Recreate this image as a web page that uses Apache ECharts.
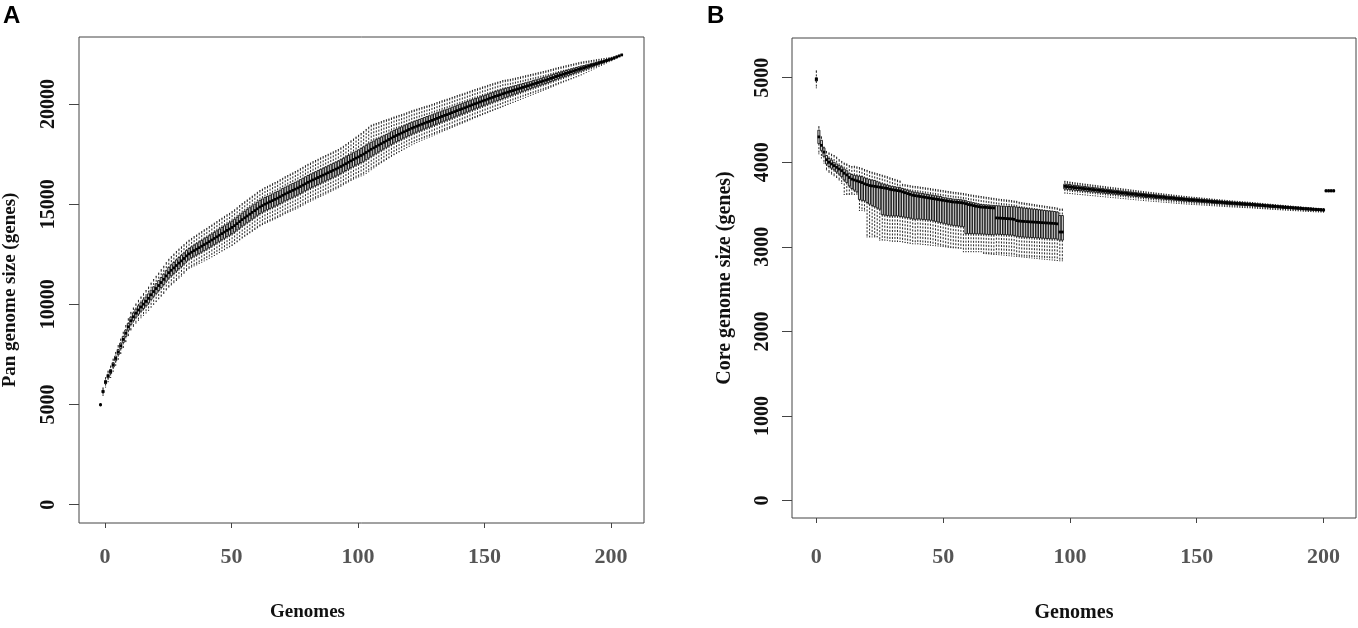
<!DOCTYPE html>
<html>
<head>
<meta charset="utf-8">
<script src="https://cdn.jsdelivr.net/npm/echarts@6/dist/echarts.min.js"></script>
<style>
html, body { margin: 0; padding: 0; background: #fff; }
#canvas { width: 1358px; height: 628px; }
</style>
</head>
<body>
<div id="canvas"></div>
<script>
// ---- data ----
// panel A: pan genome, one box per genome count (207 boxes)
var panStart = -1.8;
var panMedian = [
    4990, 5650, 6120, 6420, 6650, 6980, 7300, 7620, 7930, 8250,
    8560, 8880, 9180, 9380, 9560, 9720, 9870, 10010, 10150, 10300,
    10480, 10640, 10790, 10940, 11090, 11250, 11420, 11580, 11700, 11820,
    11940, 12060, 12170, 12290, 12420, 12520, 12600, 12680, 12750, 12830,
    12900, 12980, 13050, 13130, 13210, 13290, 13370, 13450, 13530, 13610,
    13690, 13760, 13840, 13930, 14030, 14130, 14230, 14320, 14410, 14500,
    14590, 14680, 14770, 14860, 14930, 15000, 15060, 15120, 15180, 15240,
    15300, 15370, 15440, 15510, 15570, 15630, 15690, 15750, 15810, 15880,
    15950, 16020, 16090, 16150, 16210, 16270, 16330, 16390, 16450, 16510,
    16570, 16630, 16690, 16750, 16810, 16880, 16950, 17020, 17090, 17160,
    17230, 17300, 17360, 17430, 17500, 17580, 17660, 17740, 17810, 17880,
    17950, 18020, 18090, 18160, 18230, 18300, 18370, 18430, 18490, 18550,
    18610, 18670, 18730, 18790, 18840, 18890, 18940, 18990, 19040, 19090,
    19130, 19180, 19230, 19280, 19330, 19380, 19430, 19470, 19520, 19570,
    19620, 19670, 19720, 19760, 19810, 19860, 19910, 19960, 20010, 20050,
    20100, 20150, 20190, 20240, 20290, 20330, 20380, 20420, 20460, 20510,
    20550, 20590, 20630, 20670, 20710, 20750, 20790, 20830, 20870, 20910,
    20950, 20990, 21030, 21070, 21110, 21150, 21190, 21230, 21280, 21320,
    21370, 21410, 21450, 21490, 21530, 21570, 21610, 21650, 21690, 21730,
    21770, 21810, 21850, 21890, 21930, 21970, 22010, 22050, 22090, 22130,
    22170, 22210, 22250, 22300, 22350, 22400, 22450
];
// half of the box (Q3 - Q1) / 2
var panBoxHalf = [
    15, 60, 80, 90, 100, 110, 120, 130, 140, 150,
    160, 170, 180, 190, 200, 205, 210, 215, 220, 225,
    230, 235, 240, 245, 250, 255, 260, 265, 270, 270,
    275, 275, 275, 270, 265, 265, 270, 275, 280, 285,
    285, 290, 290, 295, 295, 300, 300, 305, 305, 310,
    310, 310, 315, 315, 315, 320, 320, 320, 320, 325,
    325, 325, 325, 330, 330, 330, 330, 330, 335, 335,
    335, 335, 340, 340, 340, 340, 345, 345, 345, 345,
    345, 345, 345, 345, 345, 345, 345, 345, 345, 345,
    345, 345, 345, 345, 345, 340, 340, 340, 340, 340,
    340, 345, 350, 355, 360, 360, 355, 350, 345, 340,
    335, 330, 325, 320, 320, 315, 315, 310, 310, 305,
    305, 300, 300, 295, 295, 290, 290, 290, 285, 285,
    285, 280, 280, 280, 275, 275, 275, 270, 270, 270,
    265, 265, 265, 260, 260, 260, 255, 255, 255, 250,
    250, 250, 245, 245, 245, 240, 240, 240, 235, 235,
    230, 225, 220, 215, 210, 205, 200, 195, 190, 185,
    180, 178, 175, 172, 170, 168, 165, 162, 160, 158,
    155, 150, 148, 145, 142, 140, 136, 132, 128, 124,
    120, 112, 104, 96, 88, 80, 72, 64, 56, 48,
    42, 36, 30, 24, 18, 12, 5
];
// median - lower whisker end
var panWhiskDown = [
    60, 200, 250, 280, 300, 320, 340, 360, 380, 400,
    420, 440, 460, 480, 500, 520, 540, 560, 580, 600,
    620, 640, 650, 660, 680, 700, 700, 720, 730, 740,
    750, 750, 760, 740, 720, 720, 740, 760, 780, 790,
    800, 810, 820, 830, 840, 850, 860, 860, 870, 880,
    880, 890, 900, 900, 910, 910, 920, 920, 930, 930,
    940, 940, 950, 950, 950, 960, 960, 960, 970, 970,
    970, 980, 980, 980, 990, 990, 990, 1000, 1000, 1000,
    1000, 1000, 1000, 1000, 1000, 1000, 1000, 1000, 1000, 1000,
    1000, 1000, 990, 990, 990, 990, 980, 980, 980, 980,
    980, 990, 1000, 1020, 1040, 1050, 1040, 1020, 1000, 980,
    960, 950, 940, 930, 920, 910, 900, 890, 880, 870,
    860, 850, 840, 830, 820, 810, 800, 800, 790, 790,
    780, 780, 770, 770, 760, 760, 750, 750, 740, 740,
    730, 730, 720, 720, 710, 710, 700, 700, 690, 690,
    680, 680, 670, 670, 660, 660, 650, 650, 640, 640,
    620, 610, 600, 590, 580, 570, 560, 550, 540, 530,
    520, 510, 500, 490, 480, 470, 460, 450, 440, 430,
    420, 410, 400, 390, 380, 370, 360, 350, 340, 330,
    320, 300, 280, 260, 240, 220, 200, 180, 160, 140,
    120, 100, 90, 80, 60, 40, 15
];
// upper whisker end - median
var panWhiskUp = [
    60, 180, 220, 250, 270, 290, 300, 320, 340, 360,
    380, 400, 420, 440, 460, 480, 500, 520, 540, 560,
    580, 600, 610, 620, 640, 650, 660, 670, 680, 690,
    700, 700, 700, 690, 680, 680, 690, 700, 710, 720,
    730, 740, 740, 750, 750, 760, 760, 770, 770, 780,
    780, 780, 790, 790, 790, 800, 800, 800, 800, 810,
    810, 810, 820, 820, 820, 830, 830, 830, 840, 840,
    840, 850, 850, 860, 860, 870, 870, 880, 880, 890,
    890, 900, 900, 900, 910, 910, 910, 920, 920, 920,
    920, 920, 920, 920, 920, 930, 940, 960, 980, 1000,
    1020, 1050, 1080, 1100, 1120, 1150, 1180, 1200, 1180, 1150,
    1120, 1100, 1080, 1050, 1020, 1000, 980, 960, 940, 920,
    900, 890, 880, 870, 860, 850, 840, 830, 820, 810,
    800, 800, 790, 790, 780, 780, 770, 770, 760, 760,
    750, 750, 740, 740, 730, 730, 720, 720, 710, 710,
    700, 700, 690, 690, 680, 680, 670, 670, 660, 660,
    640, 620, 600, 590, 580, 570, 560, 550, 540, 530,
    520, 510, 500, 490, 480, 470, 460, 450, 440, 430,
    420, 410, 400, 390, 380, 370, 360, 350, 340, 330,
    320, 300, 280, 260, 240, 220, 200, 180, 160, 140,
    120, 100, 80, 60, 50, 30, 10
];

// panel B: core genome, boxes at genome counts 0..204
var coreStart = 0;
var coreMedian = [
    4980, 4300, 4200, 4120, 4030, 4000, 3980, 3960, 3940, 3920,
    3900, 3870, 3850, 3820, 3800, 3790, 3780, 3770, 3760, 3745,
    3735, 3725, 3720, 3715, 3710, 3705, 3700, 3695, 3690, 3680,
    3675, 3670, 3665, 3660, 3650, 3640, 3630, 3620, 3610, 3605,
    3600, 3595, 3590, 3585, 3580, 3575, 3570, 3565, 3560, 3555,
    3550, 3545, 3540, 3535, 3530, 3528, 3525, 3522, 3518, 3510,
    3500, 3495, 3487, 3480, 3475, 3470, 3468, 3466, 3464, 3462,
    3460, 3342, 3340, 3338, 3336, 3334, 3332, 3330, 3325, 3310,
    3305, 3302, 3300, 3298, 3296, 3294, 3292, 3290, 3288, 3286,
    3284, 3282, 3280, 3278, 3276, 3272, 3175, 3175, 3715, 3712,
    3708, 3704, 3700, 3697, 3694, 3690, 3687, 3684, 3680, 3677,
    3674, 3670, 3667, 3664, 3660, 3657, 3654, 3650, 3647, 3644,
    3640, 3637, 3634, 3630, 3627, 3624, 3620, 3617, 3614, 3610,
    3607, 3604, 3601, 3598, 3595, 3592, 3589, 3586, 3583, 3580,
    3577, 3574, 3571, 3568, 3565, 3562, 3560, 3557, 3554, 3552,
    3550, 3548, 3545, 3543, 3540, 3538, 3535, 3533, 3530, 3528,
    3526, 3523, 3521, 3518, 3516, 3514, 3512, 3510, 3508, 3506,
    3504, 3502, 3500, 3497, 3495, 3492, 3490, 3487, 3485, 3482,
    3480, 3478, 3475, 3473, 3470, 3468, 3466, 3464, 3461, 3459,
    3457, 3455, 3452, 3450, 3448, 3446, 3444, 3442, 3440, 3438,
    3436, 3662, 3662, 3662, 3662
];
// Q3 - median
var coreBoxUp = [
    20, 80, 60, 50, 50, 45, 45, 40, 40, 40,
    45, 50, 50, 50, 55, 55, 60, 65, 70, 70,
    70, 70, 70, 70, 60, 50, 45, 40, 40, 40,
    40, 40, 40, 40, 40, 40, 40, 40, 40, 40,
    40, 40, 40, 40, 40, 40, 40, 40, 40, 40,
    35, 35, 35, 35, 35, 35, 35, 35, 35, 35,
    35, 35, 35, 35, 30, 30, 30, 30, 30, 30,
    30, 145, 145, 145, 145, 145, 145, 145, 150, 160,
    160, 160, 158, 156, 155, 154, 153, 152, 150, 148,
    146, 145, 144, 143, 142, 140, 195, 195, 28, 28,
    28, 27, 27, 27, 26, 26, 26, 25, 25, 25,
    25, 25, 24, 24, 24, 24, 23, 23, 23, 23,
    22, 22, 22, 22, 22, 21, 21, 21, 21, 21,
    20, 20, 20, 20, 20, 20, 20, 20, 19, 19,
    19, 19, 19, 19, 19, 18, 18, 18, 18, 18,
    18, 18, 17, 17, 17, 17, 17, 17, 16, 16,
    16, 16, 16, 16, 16, 15, 15, 15, 15, 15,
    15, 15, 15, 14, 14, 14, 14, 14, 14, 14,
    14, 13, 13, 13, 13, 13, 13, 13, 12, 12,
    12, 12, 12, 12, 12, 12, 11, 11, 11, 11,
    10, 8, 8, 8, 8
];
// median - Q1
var coreBoxDown = [
    20, 80, 60, 50, 50, 50, 50, 50, 55, 60,
    70, 80, 90, 100, 110, 120, 130, 210, 210, 200,
    210, 220, 230, 240, 250, 260, 320, 320, 320, 315,
    310, 305, 300, 300, 295, 290, 285, 280, 280, 280,
    270, 268, 266, 264, 262, 260, 262, 264, 266, 268,
    270, 272, 274, 276, 276, 278, 278, 280, 280, 355,
    344, 340, 333, 326, 322, 318, 318, 318, 318, 318,
    318, 192, 192, 192, 192, 192, 192, 192, 190, 185,
    185, 185, 185, 185, 184, 184, 184, 184, 184, 184,
    184, 184, 184, 184, 180, 180, 96, 96, 32, 32,
    32, 32, 31, 31, 31, 30, 30, 30, 30, 29,
    29, 29, 29, 28, 28, 28, 28, 27, 27, 27,
    27, 26, 26, 26, 26, 25, 25, 25, 25, 25,
    24, 24, 24, 24, 24, 23, 23, 23, 23, 23,
    22, 22, 22, 22, 22, 22, 21, 21, 21, 21,
    21, 21, 20, 20, 20, 20, 20, 20, 19, 19,
    19, 19, 19, 19, 18, 18, 18, 18, 18, 18,
    17, 17, 17, 17, 17, 17, 16, 16, 16, 16,
    16, 16, 15, 15, 15, 15, 15, 15, 14, 14,
    14, 14, 14, 14, 13, 13, 13, 13, 13, 12,
    12, 8, 8, 8, 8
];
// median - lower whisker end
var coreWhiskDown = [
    100, 200, 150, 130, 120, 120, 120, 120, 120, 130,
    150, 250, 230, 200, 180, 170, 160, 340, 330, 320,
    618, 608, 603, 598, 593, 626, 620, 616, 612, 610,
    609, 605, 601, 597, 593, 589, 584, 579, 574, 570,
    565, 563, 561, 559, 558, 556, 554, 552, 550, 548,
    547, 546, 545, 544, 542, 541, 541, 540, 576, 568,
    558, 553, 545, 538, 533, 528, 546, 547, 548, 549,
    550, 432, 433, 434, 435, 436, 437, 438, 436, 424,
    421, 422, 423, 424, 425, 426, 427, 428, 429, 430,
    431, 432, 433, 434, 435, 434, 340, 340, 80, 78,
    78, 76, 76, 75, 75, 74, 74, 73, 73, 72,
    72, 71, 71, 70, 70, 69, 69, 68, 68, 67,
    67, 66, 66, 65, 65, 64, 64, 63, 63, 62,
    62, 61, 61, 60, 60, 59, 59, 58, 58, 57,
    57, 56, 56, 55, 55, 54, 54, 53, 53, 52,
    52, 51, 51, 50, 50, 49, 49, 48, 48, 47,
    47, 46, 46, 45, 45, 44, 44, 43, 43, 42,
    42, 41, 41, 40, 40, 39, 39, 38, 38, 37,
    37, 36, 36, 35, 35, 34, 34, 33, 33, 32,
    32, 31, 31, 30, 30, 29, 29, 28, 28, 27,
    26, 12, 12, 12, 12
];
// upper whisker end - median
var coreWhiskUp = [
    100, 120, 100, 60, 98, 110, 115, 120, 120, 110,
    110, 120, 130, 140, 150, 163, 165, 167, 168, 169,
    169, 166, 162, 159, 155, 151, 147, 143, 139, 136,
    132, 128, 123, 118, 89, 94, 99, 103, 107, 109,
    111, 111, 112, 112, 113, 113, 113, 114, 114, 114,
    115, 115, 115, 116, 116, 115, 114, 113, 113, 116,
    119, 119, 122, 124, 125, 125, 123, 120, 118, 115,
    113, 226, 224, 222, 221, 220, 218, 216, 217, 228,
    222, 220, 218, 215, 213, 210, 207, 205, 202, 200,
    197, 195, 192, 190, 188, 187, 272, 272, 60, 58,
    58, 57, 57, 56, 56, 55, 55, 54, 54, 53,
    53, 52, 52, 51, 51, 50, 50, 49, 49, 48,
    48, 47, 47, 46, 46, 45, 45, 44, 44, 43,
    43, 42, 42, 41, 41, 40, 40, 39, 39, 38,
    38, 37, 37, 36, 36, 35, 35, 34, 34, 33,
    33, 32, 32, 31, 31, 30, 30, 29, 29, 28,
    28, 28, 27, 27, 27, 26, 26, 26, 25, 25,
    25, 24, 24, 24, 23, 23, 23, 22, 22, 22,
    21, 21, 21, 20, 20, 20, 19, 19, 19, 18,
    18, 18, 17, 17, 17, 16, 16, 16, 15, 15,
    15, 12, 12, 12, 12
];

var genomeTicks = [0, 50, 100, 150, 200];
var panTicks = [0, 5000, 10000, 15000, 20000];
var coreTicks = [0, 1000, 2000, 3000, 4000, 5000];

// [x, low whisker, Q1, median, Q3, high whisker]
function buildBoxes(start, med, boxDown, boxUp, whiskDown, whiskUp) {
    var out = [];
    for (var i = 0; i < med.length; i++) {
        if (med[i] == null) continue;
        out.push([start + i, med[i] - whiskDown[i], med[i] - boxDown[i], med[i],
                  med[i] + boxUp[i], med[i] + whiskUp[i]]);
    }
    return out;
}

var panBoxes = buildBoxes(panStart, panMedian, panBoxHalf, panBoxHalf, panWhiskDown, panWhiskUp);
var coreBoxes = buildBoxes(coreStart, coreMedian, coreBoxDown, coreBoxUp, coreWhiskDown, coreWhiskUp);

// R style box: dashed whiskers, solid staples, shaded box, heavy median
function drawBox(params, api) {
    var x = api.value(0);
    var lo = api.coord([x, api.value(1)]);
    var q1 = api.coord([x, api.value(2)]);
    var md = api.coord([x, api.value(3)]);
    var q3 = api.coord([x, api.value(4)]);
    var hi = api.coord([x, api.value(5)]);
    var w = api.size([0.8, 0])[0];
    var cx = md[0];
    var dash = { stroke: '#111', lineWidth: 0.9, lineDash: [2, 1.5] };
    var solid = { stroke: '#111', lineWidth: 0.9 };
    return {
        type: 'group',
        children: [
            { type: 'line', shape: { x1: cx, y1: hi[1], x2: cx, y2: q3[1] }, style: dash },
            { type: 'line', shape: { x1: cx, y1: q1[1], x2: cx, y2: lo[1] }, style: dash },
            { type: 'line', shape: { x1: cx - w / 4, y1: hi[1], x2: cx + w / 4, y2: hi[1] }, style: solid },
            { type: 'line', shape: { x1: cx - w / 4, y1: lo[1], x2: cx + w / 4, y2: lo[1] }, style: solid },
            { type: 'rect', shape: { x: cx - w / 2, y: q3[1], width: w, height: q1[1] - q3[1] },
              style: { fill: '#ddd', stroke: '#111', lineWidth: 0.9 } },
            { type: 'line', shape: { x1: cx - w / 2 - 0.3, y1: md[1], x2: cx + w / 2 + 0.3, y2: md[1] },
              style: { stroke: '#000', lineWidth: 2.8 } }
        ]
    };
}

function plainNumber(v) { return String(v); }

var serif = 'Liberation Serif';
var tickStyle = { color: '#444', width: 1 };

var myChart = echarts.init(document.getElementById('canvas'));
option = {
    animation: false,
    grid: [
        { left: 78, top: 37, width: 566, height: 486, show: true, borderColor: '#444', borderWidth: 1 },
        { left: 792, top: 38, width: 564, height: 487, show: true, borderColor: '#444', borderWidth: 1 }
    ],
    xAxis: [{
        gridIndex: 0,
        type: 'value',
        min: -10.3,
        max: 213,
        axisLine: { show: false, onZero: false },
        axisTick: { show: true, length: 5, customValues: genomeTicks, lineStyle: tickStyle },
        axisLabel: { customValues: genomeTicks, formatter: plainNumber, margin: 23, fontFamily: serif, fontWeight: 'bold', fontSize: 22, color: '#555' },
        splitLine: { show: false },
        name: 'Genomes',
        nameLocation: 'middle',
        nameGap: 80,
        nameTextStyle: { fontFamily: serif, fontWeight: 'bold', fontSize: 19, color: '#111', padding: [0, 108, 0, 0] }
    }, {
        gridIndex: 1,
        type: 'value',
        min: -9.6,
        max: 212.8,
        axisLine: { show: false, onZero: false },
        axisTick: { show: true, length: 5, customValues: genomeTicks, lineStyle: tickStyle },
        axisLabel: { customValues: genomeTicks, formatter: plainNumber, margin: 28, fontFamily: serif, fontWeight: 'bold', fontSize: 22, color: '#555' },
        splitLine: { show: false },
        name: 'Genomes',
        nameLocation: 'middle',
        nameGap: 85,
        nameTextStyle: { fontFamily: serif, fontWeight: 'bold', fontSize: 20, color: '#111' }
    }],
    yAxis: [{
        gridIndex: 0,
        type: 'value',
        min: -913,
        max: 23344,
        axisLine: { show: false, onZero: false },
        axisTick: { show: true, length: 10, customValues: panTicks, lineStyle: tickStyle },
        axisLabel: { customValues: panTicks, formatter: plainNumber, rotate: 90, margin: 20, fontFamily: serif, fontWeight: 'bold', fontSize: 20, color: '#111' },
        splitLine: { show: false },
        name: 'Pan genome size (genes)',
        nameLocation: 'middle',
        nameGap: 59,
        nameTextStyle: { fontFamily: serif, fontWeight: 'bold', fontSize: 19, color: '#111', padding: [0, 20, 0, 0] }
    }, {
        gridIndex: 1,
        type: 'value',
        min: -206,
        max: 5469,
        axisLine: { show: false, onZero: false },
        axisTick: { show: true, length: 10, customValues: coreTicks, lineStyle: tickStyle },
        axisLabel: { customValues: coreTicks, formatter: plainNumber, rotate: 90, margin: 19, fontFamily: serif, fontWeight: 'bold', fontSize: 20, color: '#111' },
        splitLine: { show: false },
        name: 'Core genome size (genes)',
        nameLocation: 'middle',
        nameGap: 57,
        nameTextStyle: { fontFamily: serif, fontWeight: 'bold', fontSize: 20, color: '#111' }
    }],
    graphic: [
        { type: 'text', left: 3, top: 4, style: { text: 'A', fontFamily: 'Liberation Sans', fontWeight: 'bold', fontSize: 24, fill: '#000' } },
        { type: 'text', left: 707, top: 4, style: { text: 'B', fontFamily: 'Liberation Sans', fontWeight: 'bold', fontSize: 24, fill: '#000' } }
    ],
    series: [{
        name: 'Pan genome',
        type: 'custom',
        xAxisIndex: 0,
        yAxisIndex: 0,
        renderItem: drawBox,
        encode: { x: 0, y: [1, 2, 3, 4, 5] },
        data: panBoxes,
        silent: true
    }, {
        name: 'Core genome',
        type: 'custom',
        xAxisIndex: 1,
        yAxisIndex: 1,
        renderItem: drawBox,
        encode: { x: 0, y: [1, 2, 3, 4, 5] },
        data: coreBoxes,
        silent: true
    }]
};
myChart.setOption(option);
</script>
</body>
</html>
